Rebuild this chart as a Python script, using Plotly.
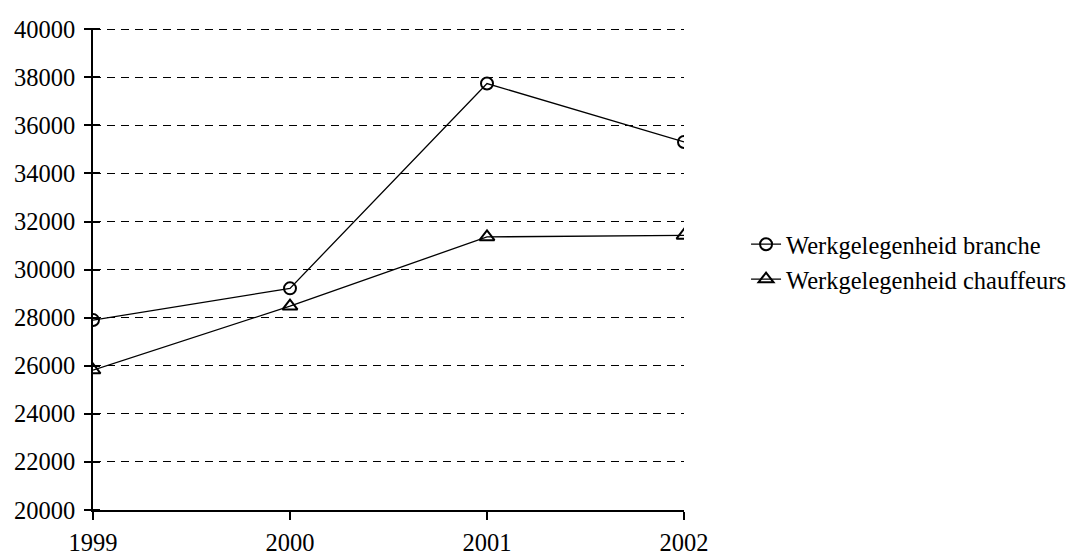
import plotly.graph_objects as go

# Werkgelegenheid per jaar
jaren = [1999, 2000, 2001, 2002]
branche = [27900, 29220, 37740, 35310]
chauffeurs = [25820, 28480, 31360, 31420]
y_ticks = list(range(20000, 40001, 2000))
y_labels = [str(v) for v in y_ticks]

FONT = "Liberation Serif, Times New Roman, serif"
FS = 24.5
Y_RANGE = [20000, 40050]

fig = go.Figure()
fig.add_trace(go.Scatter(
    x=jaren, y=branche, name="Werkgelegenheid branche",
    mode="lines+markers",
    line=dict(color="black", width=1.3),
    marker=dict(symbol="circle-open", size=12, color="black", line=dict(width=2)),
))
fig.add_trace(go.Scatter(
    x=jaren, y=chauffeurs, name="Werkgelegenheid chauffeurs",
    mode="lines+markers",
    line=dict(color="black", width=1.3),
    marker=dict(symbol="triangle-up-open", size=13, color="black", line=dict(width=2)),
))

fig.update_layout(
    width=1085, height=557,
    margin=dict(l=93, r=401, t=28, b=47, autoexpand=False),
    paper_bgcolor="white", plot_bgcolor="white",
    font=dict(family=FONT, size=FS, color="black"),
    showlegend=True,
    legend=dict(x=1.105, y=0.515, xanchor="left", yanchor="middle",
                font=dict(family=FONT, size=FS, color="black"),
                bgcolor="rgba(0,0,0,0)", itemwidth=30),
    xaxis=dict(range=[1999, 2002], tickvals=jaren, ticktext=[str(j) for j in jaren],
               showgrid=False, zeroline=False, showline=True, linecolor="black",
               linewidth=1.5, ticks="outside", ticklen=8, tickcolor="black",
               tickwidth=1.5, tickfont=dict(size=FS), ticklabelstandoff=2,
               automargin=False),
    yaxis=dict(range=Y_RANGE, tickvals=y_ticks, ticktext=y_labels,
               showgrid=True, gridcolor="black", griddash="8px,6px", gridwidth=1,
               zeroline=False, showline=True, linecolor="black", linewidth=1.5,
               ticks="outside", ticklen=7, tickcolor="black", tickwidth=1.5,
               tickfont=dict(size=FS), ticklabelstandoff=4, automargin=False,
               # inner half of the cross-style tick marks
               minor=dict(ticks="inside", tickmode="array",
                          tickvals=[v + 1 for v in y_ticks], ticklen=7,
                          tickcolor="black", tickwidth=1.5, showgrid=False)),
)

fig.write_html("out.html")
